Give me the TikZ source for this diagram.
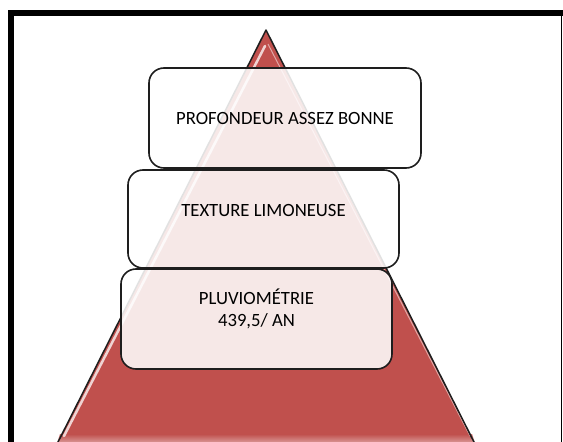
\documentclass[tikz,border=0pt]{standalone}
\usepackage{fontspec}
\setmainfont{Carlito}
\usetikzlibrary{calc}
\definecolor{triRed}{HTML}{C0504D}
\definecolor{edgeDark}{HTML}{1E1E1E}
\begin{document}
\begin{tikzpicture}[x=1pt,y=-1pt,
  levelbox/.style={draw=edgeDark, line width=1.6pt, rounded corners=15pt,
    fill=white, fill opacity=0.87, text opacity=1, inner sep=0pt},
  leveltext/.style={font=\fontsize{18.7}{22.5}\selectfont, align=center, inner sep=0pt}]
\useasboundingbox (0,0) rectangle (563,442);
% frame
\fill[white] (0,0) rectangle (563,442);
\draw[line width=6pt] (11,445) -- (11,13) -- (566,13);
\draw[line width=1pt] (561.8,16) -- (561.8,445);
% pyramid
\coordinate (apex) at (266,30);
\coordinate (bl) at (56,446);
\coordinate (br) at (476,446);
\begin{scope}
  \clip (0,0) rectangle (563,442);
  \fill[triRed] (apex) -- (bl) -- (br) -- cycle;
  \shade[top color=triRed, bottom color=triRed!35!white, opacity=0.9]
    (60,434) -- (472,434) -- (476,446) -- (56,446) -- cycle;
  \draw[white, line width=2.5pt, opacity=0.75, line cap=round]
    ($(apex)+(-1,16)$) -- (64,436);
  \draw[white, line width=1pt, opacity=0.5]
    ($(apex)+(2,14)$) -- (470,436);
  \draw[edgeDark, line width=1.5pt, line join=round] (bl) -- (apex) -- (br);
\end{scope}
% levels
\node[levelbox, minimum width=272pt, minimum height=100pt] (b1) at (285,118) {};
\node[levelbox, minimum width=271pt, minimum height=98pt] (b2) at (263.5,219) {};
\node[levelbox, minimum width=271pt, minimum height=100pt] (b3) at (256.5,319) {};
\node[leveltext] (t1) at (b1.center) {PROFONDEUR ASSEZ BONNE};
\node[leveltext] (t2) at ([yshift=9pt]b2.center) {TEXTURE LIMONEUSE};
\node[leveltext] (t3) at (256.5,309) {PLUVIOMÉTRIE\\ 439,5/ AN};
\end{tikzpicture}
\end{document}
